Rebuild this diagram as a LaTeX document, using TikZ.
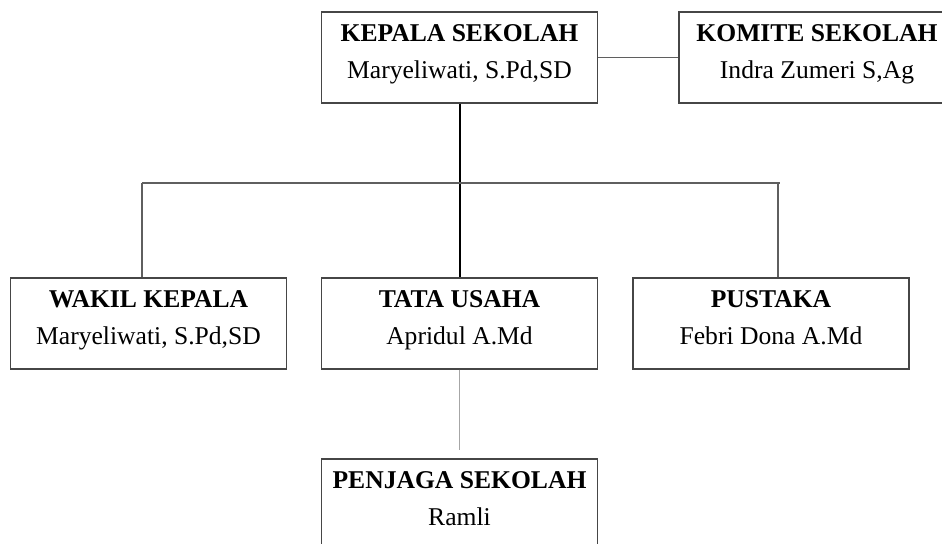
\documentclass[tikz,border=0pt]{standalone}
\usepackage{fontspec}
\setmainfont{Liberation Serif}
\usetikzlibrary{positioning}
\definecolor{BoxGray}{RGB}{70,70,70}
\definecolor{LineGray}{RGB}{95,95,95}

\begin{document}
\begin{tikzpicture}[x=0.5pt, y=-0.5pt,
  jabatan/.style={draw=BoxGray, line width=0.75pt, minimum width=138pt, minimum height=45.5pt,
    inner sep=0pt, align=center, font=\fontsize{12.8}{18.5}\selectfont,
    execute at begin node=\strut, execute at end node=\strut},
  garis/.style={draw=LineGray, line width=0.75pt}]
\pgfmathsetmacro{\xm}{459.5} % middle column
\pgfmathsetmacro{\yb}{183} % bus line

\useasboundingbox (0,0) rectangle (942,544); %border
\clip (0,0) rectangle (942,544);

\node[jabatan] (kepala) at (\xm,57.5) {\textbf{KEPALA SEKOLAH}\\Maryeliwati, S.Pd,SD};
\node[jabatan] (komite) at (817,57.5) {\textbf{KOMITE SEKOLAH}\\Indra Zumeri S,Ag};

\node[jabatan] (wakil) at (148.5,323.5) {\textbf{WAKIL KEPALA}\\Maryeliwati, S.Pd,SD};
\node[jabatan] (tata) at (\xm,323.5) {\textbf{TATA USAHA}\\Apridul A.Md};
\node[jabatan] (pustaka) at (771,323.5) {\textbf{PUSTAKA}\\Febri Dona A.Md};

\node[jabatan] (penjaga) at (\xm,504.5) {\textbf{PENJAGA SEKOLAH}\\Ramli};

\coordinate (busL) at (142,\yb);
\coordinate (busR) at (780,\yb);

\draw[garis] (kepala.east) -- (komite.west); % komite
\draw[black, line width=1pt] (kepala.south) -- (tata.north); % garis tengah
\draw[garis] (busL) -- (busR);
\draw[garis] (busL) -- (busL |- wakil.north);
\draw[garis] ([xshift=-1pt]busR) -- ([xshift=-1pt]busR |- pustaka.north);
\draw[draw=gray!70, line width=0.5pt] (tata.south) -- ([yshift=4pt]penjaga.north); % penjaga
\end{tikzpicture}
\end{document}
